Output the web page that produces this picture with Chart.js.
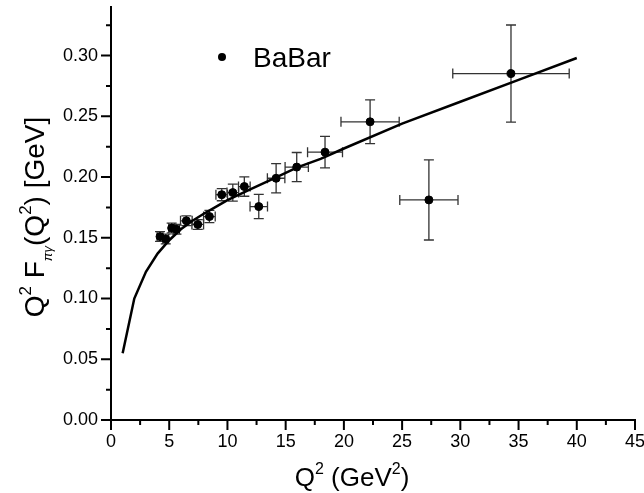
<!DOCTYPE html>
<html>
<head>
<meta charset="utf-8">
<script src="https://cdn.jsdelivr.net/npm/chart.js@4.4.1/dist/chart.umd.min.js"></script>
<style>
    html, body { margin: 0; padding: 0; background: #fff; }
    #wrap { width: 644px; height: 493px; }
</style>
</head>
<body>
<div id="wrap"><canvas id="chart"></canvas></div>
<script>
/* BaBar points */
const q2 = [4.21, 4.70, 5.21, 5.62, 6.47, 7.45, 8.45, 9.51, 10.46, 11.45, 12.69, 14.18, 15.95, 18.38, 22.25, 27.3, 34.35];
const ff = [0.151, 0.149, 0.158, 0.157, 0.164, 0.161, 0.1675, 0.1855, 0.1872, 0.1922, 0.1757, 0.199, 0.2082, 0.2205, 0.2455, 0.1812, 0.2852];
const q2Err = [0.25, 0.25, 0.25, 0.25, 0.5, 0.5, 0.5, 0.5, 0.5, 0.5, 0.75, 0.75, 1.0, 1.5, 2.5, 2.5, 5.0];
const ffErr = [0.004, 0.004, 0.004, 0.004, 0.004, 0.004, 0.005, 0.005, 0.007, 0.008, 0.010, 0.012, 0.012, 0.013, 0.018, 0.033, 0.040];

/* theory curve */
const curveQ2 = [1, 2, 3, 4, 5, 6, 7, 8, 9, 10, 12, 14, 16, 18, 20, 25, 30, 35, 40];
const curveFF = [0.055, 0.100, 0.122, 0.137, 0.148, 0.157, 0.164, 0.170, 0.1755, 0.181, 0.190, 0.199, 0.208, 0.215, 0.2235, 0.244, 0.262, 0.280, 0.298];

/* axis ticks */
const xTicks = [0, 5, 10, 15, 20, 25, 30, 35, 40, 45];
const yTicks = [0, 0.05, 0.10, 0.15, 0.20, 0.25, 0.30];
const xMinor = [2.5, 7.5, 12.5, 17.5, 22.5, 27.5, 32.5, 37.5, 42.5];
const yMinor = [0.025, 0.075, 0.125, 0.175, 0.225, 0.275, 0.325];

const FONT = 'Liberation Sans, Arial, sans-serif';

// draw text pieces with super/subscripts, centred on 0
function richText(ctx, parts, size) {
    let total = 0;
    parts.forEach(p => {
        ctx.font = (p.it ? 'italic ' : '') + Math.round(size * (p.s || 1)) + 'px ' + FONT;
        p.w = ctx.measureText(p.t).width;
        total += p.w;
    });
    let x = -total / 2;
    parts.forEach(p => {
        ctx.font = (p.it ? 'italic ' : '') + Math.round(size * (p.s || 1)) + 'px ' + FONT;
        ctx.fillText(p.t, x, (p.dy || 0) * size);
        x += p.w;
    });
}

const decorPlugin = {
    id: 'decor',
    beforeDatasetsDraw(chart) {
        const ctx = chart.ctx, xs = chart.scales.x, ys = chart.scales.y;
        ctx.save();
        ctx.strokeStyle = '#333';
        ctx.lineWidth = 1.3;
        const cap = 5;
        for (let i = 0; i < q2.length; i++) {
            const px = xs.getPixelForValue(q2[i]), py = ys.getPixelForValue(ff[i]);
            const x1 = xs.getPixelForValue(q2[i] - q2Err[i]), x2 = xs.getPixelForValue(q2[i] + q2Err[i]);
            const y1 = ys.getPixelForValue(ff[i] + ffErr[i]), y2 = ys.getPixelForValue(ff[i] - ffErr[i]);
            ctx.beginPath();
            ctx.moveTo(x1, py); ctx.lineTo(x2, py);
            ctx.moveTo(x1, py - cap); ctx.lineTo(x1, py + cap);
            ctx.moveTo(x2, py - cap); ctx.lineTo(x2, py + cap);
            ctx.moveTo(px, y1); ctx.lineTo(px, y2);
            ctx.moveTo(px - cap, y1); ctx.lineTo(px + cap, y1);
            ctx.moveTo(px - cap, y2); ctx.lineTo(px + cap, y2);
            ctx.stroke();
        }
        ctx.restore();
    },
    afterDraw(chart) {
        const ctx = chart.ctx, xs = chart.scales.x, ys = chart.scales.y, a = chart.chartArea;
        ctx.save();
        // ticks, outward
        ctx.strokeStyle = '#000';
        ctx.lineWidth = 2;
        ctx.beginPath();
        xTicks.forEach(v => { const p = xs.getPixelForValue(v); ctx.moveTo(p, a.bottom); ctx.lineTo(p, a.bottom + 10); });
        xMinor.forEach(v => { const p = xs.getPixelForValue(v); ctx.moveTo(p, a.bottom); ctx.lineTo(p, a.bottom + 5); });
        yTicks.forEach(v => { const p = ys.getPixelForValue(v); ctx.moveTo(a.left, p); ctx.lineTo(a.left - 10, p); });
        yMinor.forEach(v => { const p = ys.getPixelForValue(v); ctx.moveTo(a.left, p); ctx.lineTo(a.left - 5, p); });
        ctx.stroke();

        // legend
        ctx.fillStyle = '#000';
        ctx.beginPath();
        ctx.arc(a.left + 111, a.top + 50, 4, 0, Math.PI * 2);
        ctx.fill();
        ctx.font = '28px ' + FONT;
        ctx.textBaseline = 'alphabetic';
        ctx.fillText('BaBar', a.left + 142, a.top + 60);

        // x title
        ctx.save();
        ctx.translate(352, 486);
        richText(ctx, [{t: 'Q'}, {t: '2', s: 0.6, dy: -0.45}, {t: ' (GeV'}, {t: '2', s: 0.6, dy: -0.45}, {t: ')'}], 26);
        ctx.restore();

        // y title
        ctx.save();
        ctx.translate(44, 217);
        ctx.rotate(-Math.PI / 2);
        richText(ctx, [{t: 'Q'}, {t: '2', s: 0.6, dy: -0.45}, {t: ' F'}, {t: 'πγ', s: 0.45, dy: 0.3, it: true},
            {t: '(Q'}, {t: '2', s: 0.6, dy: -0.45}, {t: ') [GeV]'}], 28);
        ctx.restore();
        ctx.restore();
    }
};

new Chart(document.getElementById('chart'), {
    type: 'scatter',
    data: {
        datasets: [{
            label: 'BaBar',
            data: q2.map((v, i) => ({x: v, y: ff[i]})),
            backgroundColor: '#000',
            borderColor: '#000',
            pointRadius: 4,
            pointHoverRadius: 4
        }, {
            label: 'theory',
            data: curveQ2.map((v, i) => ({x: v, y: curveFF[i]})),
            showLine: true,
            borderColor: '#000',
            borderWidth: 2.5,
            pointRadius: 0,
            tension: 0
        }]
    },
    options: {
        responsive: true,
        maintainAspectRatio: false,
        animation: false,
        layout: { padding: { top: 7, right: 9, left: 0, bottom: 0 } },
        plugins: { legend: { display: false }, tooltip: { enabled: false } },
        scales: {
            x: {
                type: 'linear', min: 0, max: 45,
                afterBuildTicks: s => { s.ticks = xTicks.map(v => ({value: v})); },
                afterFit: s => { s.height = 73; s.paddingLeft = 0; s.paddingRight = 0; },
                grid: { display: false, drawTicks: false },
                border: { display: true, color: '#000', width: 2 },
                ticks: { color: '#000', font: { family: FONT, size: 18 }, padding: 11, maxRotation: 0 }
            },
            y: {
                type: 'linear', min: 0, max: 0.34,
                afterBuildTicks: s => { s.ticks = yTicks.map(v => ({value: v})); },
                afterFit: s => { s.width = 111; s.paddingTop = 0; s.paddingBottom = 0; },
                grid: { display: false, drawTicks: false },
                border: { display: true, color: '#000', width: 2 },
                ticks: { color: '#000', font: { family: FONT, size: 18 }, padding: 13, callback: v => v.toFixed(2) }
            }
        }
    },
    plugins: [decorPlugin]
});
</script>
</body>
</html>
